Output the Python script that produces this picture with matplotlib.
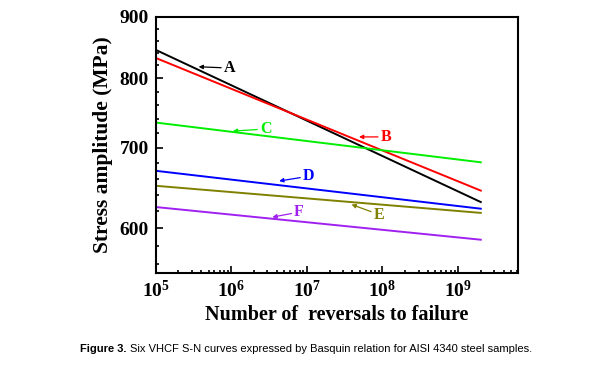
import matplotlib
matplotlib.use('Agg')
from matplotlib import pyplot as plt
from matplotlib.ticker import FixedLocator, LogLocator, NullFormatter

plt.rcParams['font.family'] = 'Liberation Serif'
plt.rcParams['font.weight'] = 'bold'
plt.rcParams['mathtext.fontset'] = 'custom'
plt.rcParams['mathtext.rm'] = 'Liberation Serif:bold'
plt.rcParams['mathtext.bf'] = 'Liberation Serif:bold'

# Basquin lines: stress at N = 1e5 and at N = 2e9
cycles = [1e5, 2e9]
names = ['A', 'B', 'C', 'D', 'E', 'F']
colors = ['black', '#ff0000', '#00ee00', '#0000ff', '#808000', '#a020f0']
stress_A = [845, 631]
stress_B = [832, 645]
stress_C = [735, 681]
stress_D = [670, 623]
stress_E = [651, 618]
stress_F = [625, 587]
series = [stress_A, stress_B, stress_C, stress_D, stress_E, stress_F]

# label arrows: (arrow tip, text position) in data coords
tips = [(3.7e5, 818), (4.9e7, 715), (1.05e6, 723), (4.3e6, 657), (3.9e7, 628), (3.5e6, 613)]
texts = [(8.0e5, 816), (9.5e7, 715), (2.4e6, 726), (8.9e6, 663), (7.7e7, 616), (6.8e6, 619)]

fig = plt.figure(figsize=(5.96, 3.66), dpi=100)
ax = fig.add_axes([0.2612, 0.2549, 0.6078, 0.6987])

for s, c in zip(series, colors):
    ax.plot(cycles, s, color=c, lw=1.4)

for n, c, tip, tx in zip(names, colors, tips, texts):
    ax.annotate(n, xy=tip, xytext=tx, color=c, fontsize=11.5, fontweight='bold',
                ha='left', va='center',
                arrowprops=dict(arrowstyle='-|>', color=c, lw=0.9,
                                mutation_scale=6, shrinkA=0, shrinkB=0))

ax.set_xscale('log')
ax.set_yscale('log')
ax.set_xlim(1e5, 6.2e9)
ax.set_ylim(551, 900)

ax.xaxis.set_major_locator(FixedLocator([1e5, 1e6, 1e7, 1e8, 1e9]))
ax.xaxis.set_minor_locator(LogLocator(base=10, subs=range(2, 10)))
ax.xaxis.set_minor_formatter(NullFormatter())
ax.set_xticklabels([r'$\mathbf{10^{%d}}$' % e for e in [5, 6, 7, 8, 9]])

ax.yaxis.set_major_locator(FixedLocator([600, 700, 800, 900]))
ax.yaxis.set_minor_locator(FixedLocator(list(range(560, 900, 20))))
ax.yaxis.set_minor_formatter(NullFormatter())
ax.set_yticklabels(['600', '700', '800', '900'])

ax.tick_params(which='both', direction='in', top=False, right=False, labelsize=14, width=1.2)
ax.tick_params(which='major', length=5, pad=5)
ax.tick_params(which='minor', length=2.5)
for sp in ax.spines.values():
    sp.set_linewidth(1.5)

ax.set_ylabel('Stress amplitude (MPa)', fontsize=15.5, fontweight='bold', labelpad=5)
ax.set_xlabel('Number of  reversals to failure', fontsize=14.5, fontweight='bold', labelpad=3)

# caption: bold "Figure 3." followed by plain text
t1 = fig.text(0.134, 0.038, 'Figure 3.', fontsize=8, fontweight='bold', family='Liberation Sans')
fig.canvas.draw()
bb = t1.get_window_extent()
fig.text(bb.x1 / fig.bbox.width + 0.006, 0.038,
         'Six VHCF S-N curves expressed by Basquin relation for AISI 4340 steel samples.',
         fontsize=8, fontweight='normal', family='Liberation Sans')

fig.savefig('out.png', dpi=100)
